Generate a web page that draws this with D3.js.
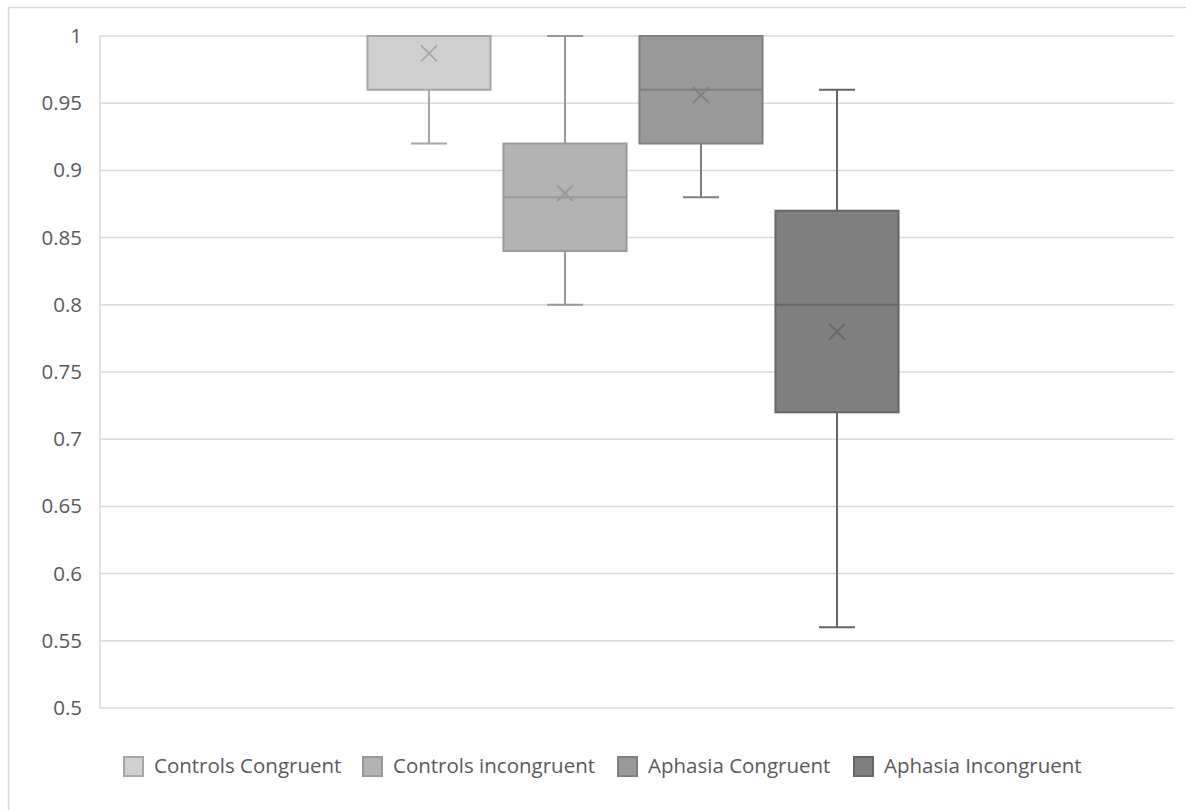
<!DOCTYPE html>
<html><head><meta charset="utf-8">
<script src="https://cdn.jsdelivr.net/npm/d3@7"></script>
<style>body{margin:0;background:#fff}svg{display:block}</style>
</head><body>
<svg id="c" width="1186" height="810"></svg>
<script>
const series = ["Controls Congruent","Controls incongruent","Aphasia Congruent","Aphasia Incongruent"];
const whiskerMin = [0.92, 0.80, 0.88, 0.56];
const q1Values   = [0.96, 0.84, 0.92, 0.72];
const medians    = [1.00, 0.88, 0.96, 0.80];
const q3Values   = [1.00, 0.92, 1.00, 0.87];
const whiskerMax = [1.00, 1.00, 1.00, 0.96];
const means      = [0.987, 0.883, 0.956, 0.78];
const yTicks = [0.5,0.55,0.6,0.65,0.7,0.75,0.8,0.85,0.9,0.95,1];
const fills   = ["#d0d0d0","#b3b3b3","#999999","#7f7f7f"];
const strokes = ["#a6a6a6","#999999","#7f7f7f","#666666"];

const svg = d3.select("#c");
const font = "'Open Sans', Lato, sans-serif";
const textColor = "#595959";
const plot = {l:100, r:1174, t:36, b:708};

// chart border
svg.append("rect").attr("x",8.5).attr("y",7.5).attr("width",1300).attr("height",1000)
  .attr("fill","none").attr("stroke","#d9d9d9").attr("stroke-width",1.5);

const y = d3.scaleLinear().domain([0.5,1]).range([plot.b, plot.t]);
const x0 = d3.scaleBand().domain(["all"]).range([plot.l, plot.r]).paddingInner(0).paddingOuter(0.0);
const groupW = 544;
const gStart = x0("all") + (x0.bandwidth()-groupW)/2 - 4;
const x = d3.scaleBand().domain(series).range([gStart, gStart+groupW]).paddingInner(0.095).paddingOuter(0.0475);

// gridlines
svg.append("g").selectAll("line").data(yTicks).join("line")
  .attr("x1",plot.l).attr("x2",plot.r).attr("y1",d=>y(d)).attr("y2",d=>y(d))
  .attr("stroke","#d9d9d9").attr("stroke-width",1.5);
// vertical axis line
svg.append("line").attr("x1",plot.l).attr("x2",plot.l).attr("y1",plot.t).attr("y2",plot.b)
  .attr("stroke","#d9d9d9").attr("stroke-width",1.5);

// y axis labels
const yAxis = d3.axisLeft(y).tickValues(yTicks).tickSize(0).tickPadding(18).tickFormat(d3.format("~g"));
const ya = svg.append("g").attr("transform",`translate(${plot.l},0)`).call(yAxis);
ya.select(".domain").remove();
ya.selectAll("text").attr("font-family",font).attr("font-size",20.5).attr("fill",textColor);

// boxes
const data = series.map((s,i)=>({s,i,min:whiskerMin[i],q1:q1Values[i],med:medians[i],q3:q3Values[i],max:whiskerMax[i],mean:means[i]}));
const g = svg.append("g").selectAll("g").data(data).join("g");
const cx = d=>x(d.s)+x.bandwidth()/2;
const capW = 36;
// whiskers
g.append("line").attr("x1",cx).attr("x2",cx).attr("y1",d=>y(d.max)).attr("y2",d=>y(d.q3))
  .attr("stroke",d=>strokes[d.i]).attr("stroke-width",2);
g.append("line").attr("x1",cx).attr("x2",cx).attr("y1",d=>y(d.q1)).attr("y2",d=>y(d.min))
  .attr("stroke",d=>strokes[d.i]).attr("stroke-width",2);
g.filter(d=>d.max>d.q3).append("line").attr("x1",d=>cx(d)-capW/2).attr("x2",d=>cx(d)+capW/2)
  .attr("y1",d=>y(d.max)).attr("y2",d=>y(d.max)).attr("stroke",d=>strokes[d.i]).attr("stroke-width",2);
g.filter(d=>d.min<d.q1).append("line").attr("x1",d=>cx(d)-capW/2).attr("x2",d=>cx(d)+capW/2)
  .attr("y1",d=>y(d.min)).attr("y2",d=>y(d.min)).attr("stroke",d=>strokes[d.i]).attr("stroke-width",2);
// box
g.append("rect").attr("x",d=>x(d.s)).attr("width",x.bandwidth())
  .attr("y",d=>y(d.q3)).attr("height",d=>y(d.q1)-y(d.q3))
  .attr("fill",d=>fills[d.i]).attr("stroke",d=>strokes[d.i]).attr("stroke-width",2);
// median
g.append("line").attr("x1",d=>x(d.s)).attr("x2",d=>x(d.s)+x.bandwidth())
  .attr("y1",d=>y(d.med)).attr("y2",d=>y(d.med)).attr("stroke",d=>strokes[d.i]).attr("stroke-width",2);
// mean X
const m = 8;
g.append("path").attr("d",d=>{const X=cx(d),Y=y(d.mean);return `M${X-m},${Y-m}L${X+m},${Y+m}M${X-m},${Y+m}L${X+m},${Y-m}`;})
  .attr("stroke",d=>strokes[d.i]).attr("stroke-width",1.8).attr("fill","none");

// legend
const legX = [123, 362, 617, 853];
const lg = svg.append("g").selectAll("g").data(series).join("g")
  .attr("transform",(d,i)=>`translate(${legX[i]},756)`);
lg.append("rect").attr("x",1).attr("y",1).attr("width",19).attr("height",19)
  .attr("fill",(d,i)=>fills[i]).attr("stroke",(d,i)=>strokes[i]).attr("stroke-width",2);
lg.append("text").attr("x",31).attr("y",17).text(d=>d)
  .attr("font-family",font).attr("font-size",20.5).attr("fill",textColor);
</script>
</body></html>
